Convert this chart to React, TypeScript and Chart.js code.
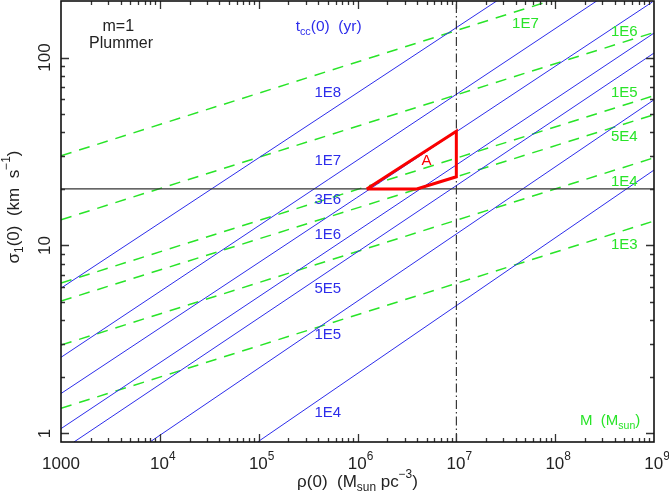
import React, { useEffect, useRef } from 'react';
import { Chart, registerables } from 'chart.js';

Chart.register(...registerables);

// ---- axes ----
const RHO_MIN = 1e3;
const RHO_MAX = 1e9;
const SIGMA_MIN = 0.9;
const SIGMA_MAX = 200;
const X_MAJOR = [1e3, 1e4, 1e5, 1e6, 1e7, 1e8, 1e9];
const X_MAJOR_BASE = ['1000', '10', '10', '10', '10', '10', '10'];
const X_MAJOR_EXP = ['', '4', '5', '6', '7', '8', '9'];
const Y_MAJOR = [1, 10, 100];
const Y_MAJOR_LABELS = ['1', '10', '100'];

// ---- core-collapse time lines t_cc(0) (blue, solid) ----
const TCC_LABELS = ['1E8', '1E7', '3E6', '1E6', '5E5', '1E5', '1E4'];
const TCC_START_RHO = [1e3, 1e3, 1e3, 1e3, 1352, 7943, 9.75e4];
const TCC_START_SIGMA = [5.93, 2.54, 1.63, 1.06, 0.9, 0.9, 0.9];
const TCC_END_RHO = [2.56e7, 2.63e8, 9.68e8, 1e9, 1e9, 1e9, 1e9];
const TCC_END_SIGMA = [200, 200, 198, 135, 105.7, 59.6, 25.2];
const TCC_LABEL_RHO = [5e5, 5e5, 5e5, 5e5, 5e5, 5e5, 5e5];
const TCC_LABEL_SIGMA = [65, 28.2, 17.5, 11.4, 5.86, 3.33, 1.29];

// ---- cluster mass lines M (green, dashed) ----
const MASS_LABELS = ['1E7', '1E6', '1E5', '5E4', '1E4', '1E3'];
const MASS_SIGMA_AT_RHO_MIN = [30.0, 13.7, 6.31, 5.06, 2.95, 1.36];
const MASS_SIGMA_AT_RHO_MAX = [300, 136, 62.7, 49.7, 29.3, 13.5];
const MASS_LABEL_RHO = [5e7, 5e8, 5e8, 5e8, 5e8, 5e8];
const MASS_LABEL_SIGMA = [151, 137, 65, 37.8, 21.8, 10.05];

// ---- reference lines & region A ----
const SIGMA_CUT = 20;
const RHO_CUT = 1e7;
const REGION_A_RHO = [1.24e6, 1e7, 1e7, 3.98e6, 1.24e6];
const REGION_A_SIGMA = [20, 40.5, 23.2, 20, 20];

const BLUE = 'rgb(45,45,235)';
const GREEN = 'rgb(40,228,40)';
const RED = 'rgb(250,0,0)';
const INK = '#222';
const FONT = '"Liberation Sans", Arial, sans-serif';

type Seg = { t: string; s?: 'sub' | 'sup' };

function drawRich(
  ctx: CanvasRenderingContext2D,
  segs: Seg[],
  x: number,
  y: number,
  size: number,
  color: string,
  align: 'center' | 'left' | 'right' = 'center',
  rotate = 0
) {
  ctx.save();
  ctx.translate(x, y);
  ctx.rotate(rotate);
  ctx.textBaseline = 'middle';
  ctx.textAlign = 'left';
  ctx.fillStyle = color;
  const fs = (s?: string) => (s ? size * 0.7 : size);
  let total = 0;
  const widths: number[] = [];
  for (const sg of segs) {
    ctx.font = `${fs(sg.s)}px ${FONT}`;
    const w = ctx.measureText(sg.t).width;
    widths.push(w);
    total += w;
  }
  let cx = align === 'center' ? -total / 2 : align === 'right' ? -total : 0;
  segs.forEach((sg, i) => {
    ctx.font = `${fs(sg.s)}px ${FONT}`;
    const dy = sg.s === 'sub' ? size * 0.32 : sg.s === 'sup' ? -size * 0.42 : 0;
    ctx.fillText(sg.t, cx, dy);
    cx += widths[i];
  });
  ctx.restore();
}

const overlay = {
  id: 'overlay',
  afterDatasetsDraw(chart: any) {
    const ctx: CanvasRenderingContext2D = chart.ctx;
    const xs = chart.scales.x;
    const ys = chart.scales.y;
    const { left, right, top, bottom } = chart.chartArea;
    const X = (v: number) => xs.getPixelForValue(v);
    const Y = (v: number) => ys.getPixelForValue(v);

    // ticks
    ctx.save();
    ctx.strokeStyle = '#333';
    ctx.lineWidth = 1.3;
    const majLen = 8;
    const minLen = 4;
    for (let e = 3; e <= 9; e++) {
      for (let k = 1; k <= 9; k++) {
        const v = k * Math.pow(10, e);
        if (v <= RHO_MIN || v >= RHO_MAX) continue;
        const px = Math.round(X(v)) + 0.5;
        const len = k === 1 ? majLen : minLen;
        ctx.beginPath();
        ctx.moveTo(px, bottom);
        ctx.lineTo(px, bottom - len);
        ctx.moveTo(px, top);
        ctx.lineTo(px, top + len);
        ctx.stroke();
      }
    }
    for (let e = -1; e <= 2; e++) {
      for (let k = 1; k <= 9; k++) {
        const v = k * Math.pow(10, e);
        if (v <= SIGMA_MIN * 1.01 || v >= SIGMA_MAX * 0.99) continue;
        const py = Math.round(Y(v)) + 0.5;
        const len = k === 1 ? majLen : minLen;
        ctx.beginPath();
        ctx.moveTo(left, py);
        ctx.lineTo(left + len, py);
        ctx.moveTo(right, py);
        ctx.lineTo(right - len, py);
        ctx.stroke();
      }
    }
    // frame
    ctx.strokeStyle = '#111';
    ctx.lineWidth = 1.6;
    ctx.strokeRect(left, top, right - left, bottom - top);
    ctx.restore();

    // tick labels
    X_MAJOR.forEach((v, i) => {
      const segs: Seg[] = [{ t: X_MAJOR_BASE[i] }];
      if (X_MAJOR_EXP[i]) segs.push({ t: X_MAJOR_EXP[i], s: 'sup' });
      drawRich(ctx, segs, X(v) + (X_MAJOR_EXP[i] ? 3 : 0), bottom + 22, 17, INK);
    });
    Y_MAJOR.forEach((v, i) => {
      drawRich(ctx, [{ t: Y_MAJOR_LABELS[i] }], left - 16, Y(v), 17, INK, 'center', -Math.PI / 2);
    });

    // axis titles
    drawRich(
      ctx,
      [{ t: 'ρ(0)  (M' }, { t: 'sun', s: 'sub' }, { t: ' pc' }, { t: '−3', s: 'sup' }, { t: ')' }],
      (left + right) / 2,
      bottom + 40,
      17,
      INK
    );
    drawRich(
      ctx,
      [{ t: 'σ' }, { t: '1', s: 'sub' }, { t: '(0)  (km  s' }, { t: '−1', s: 'sup' }, { t: ')' }],
      14,
      207,
      17,
      INK,
      'center',
      -Math.PI / 2
    );

    // annotations
    drawRich(ctx, [{ t: 'm=1' }], X(3.8e3), Y(146), 16, INK);
    drawRich(ctx, [{ t: 'Plummer' }], X(4.05e3), Y(118.5), 16, INK);
    drawRich(ctx, [{ t: 't' }, { t: 'cc', s: 'sub' }, { t: '(0)  (yr)' }], X(5.1e5), Y(146), 15.5, BLUE);
    TCC_LABELS.forEach((l, i) => {
      drawRich(ctx, [{ t: l }], X(TCC_LABEL_RHO[i]), Y(TCC_LABEL_SIGMA[i]), 15, BLUE);
    });
    MASS_LABELS.forEach((l, i) => {
      drawRich(ctx, [{ t: l }], X(MASS_LABEL_RHO[i]), Y(MASS_LABEL_SIGMA[i]), 15, GREEN);
    });
    drawRich(ctx, [{ t: 'M  (M' }, { t: 'sun', s: 'sub' }, { t: ')' }], X(3.6e8), Y(1.16), 15, GREEN);
    drawRich(ctx, [{ t: 'A' }], X(5.0e6), Y(28.2), 15, RED);
  },
};

export default function App() {
  const ref = useRef<HTMLCanvasElement | null>(null);

  useEffect(() => {
    if (!ref.current) return;
    const datasets: any[] = [];

    datasets.push({
      label: 'A',
      data: REGION_A_RHO.map((x, i) => ({ x, y: REGION_A_SIGMA[i] })),
      borderColor: RED,
      borderWidth: 3,
      pointRadius: 0,
      order: 0,
      borderJoinStyle: 'miter',
    });
    datasets.push({
      label: 'sigma cut',
      data: [
        { x: RHO_MIN, y: SIGMA_CUT },
        { x: RHO_MAX, y: SIGMA_CUT },
      ],
      borderColor: '#333',
      borderWidth: 1.4,
      pointRadius: 0,
      order: 1,
    });
    datasets.push({
      label: 'rho cut',
      data: [
        { x: RHO_CUT, y: SIGMA_MIN },
        { x: RHO_CUT, y: SIGMA_MAX },
      ],
      borderColor: '#111',
      borderWidth: 1,
      borderDash: [9, 3, 1.5, 3],
      pointRadius: 0,
      order: 1,
    });
    TCC_LABELS.forEach((l, i) => {
      datasets.push({
        label: 'tcc ' + l,
        data: [
          { x: TCC_START_RHO[i], y: TCC_START_SIGMA[i] },
          { x: TCC_END_RHO[i], y: TCC_END_SIGMA[i] },
        ],
        borderColor: BLUE,
        borderWidth: 1,
        pointRadius: 0,
        order: 2,
      });
    });
    MASS_LABELS.forEach((l, i) => {
      datasets.push({
        label: 'M ' + l,
        data: [
          { x: RHO_MIN, y: MASS_SIGMA_AT_RHO_MIN[i] },
          { x: RHO_MAX, y: MASS_SIGMA_AT_RHO_MAX[i] },
        ],
        borderColor: GREEN,
        borderWidth: 1.5,
        borderDash: [11, 8],
        pointRadius: 0,
        order: 3,
      });
    });

    const chart = new Chart(ref.current, {
      type: 'line',
      data: { datasets },
      options: {
        animation: false,
        responsive: false,
        devicePixelRatio: 1,
        parsing: true,
        layout: { padding: { left: 61, right: 15, top: 1, bottom: 49 } },
        plugins: { legend: { display: false }, tooltip: { enabled: false } },
        scales: {
          x: { type: 'logarithmic', min: RHO_MIN, max: RHO_MAX, display: false },
          y: { type: 'logarithmic', min: SIGMA_MIN, max: SIGMA_MAX, display: false },
        },
        elements: { line: { tension: 0 } },
      },
      plugins: [overlay],
    } as any);
    return () => chart.destroy();
  }, []);

  return (
    <div style={{ position: 'fixed', left: 0, top: 0, width: 669, height: 491, background: '#fff' }}>
      <canvas ref={ref} width={669} height={491} style={{ display: 'block' }} />
    </div>
  );
}
